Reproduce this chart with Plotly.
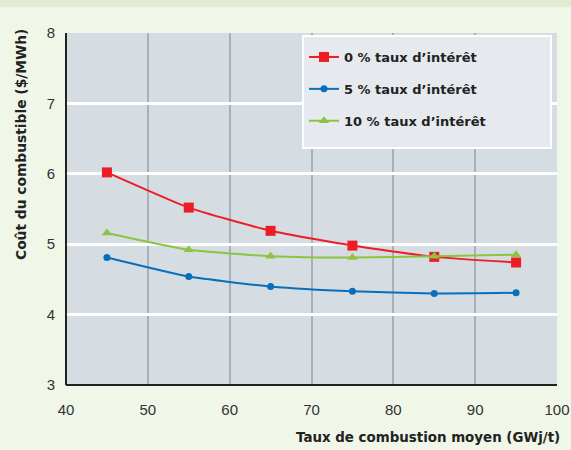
import plotly.graph_objects as go

x_vals = [45, 55, 65, 75, 85, 95]
rate_0 = [6.02, 5.52, 5.19, 4.98, 4.82, 4.74]
rate_5 = [4.81, 4.54, 4.40, 4.33, 4.30, 4.31]
rate_10 = [5.16, 4.92, 4.83, 4.81, 4.83, 4.85]
names = ["0 % taux d’intérêt", "5 % taux d’intérêt", "10 % taux d’intérêt"]
x_ticks = [40, 50, 60, 70, 80, 90, 100]
y_ticks = [3, 4, 5, 6, 7, 8]

W, H = 571, 450
ML, MR, MT, MB = 66, 14, 33, 65
PW, PH = W - ML - MR, H - MT - MB

def px_x(p):
    return (p - ML) / PW

def px_y(p):
    return (H - MB - p) / PH

BOLD = "DejaVu Sans, Verdana, sans-serif"

fig = go.Figure()
series = [
    (rate_0, "#ee1c25", "square", 10),
    (rate_5, "#0a6fba", "circle", 7),
    (rate_10, "#8cc43f", "triangle-up", 9),
]
for i, (vals, col, sym, sz) in enumerate(series):
    fig.add_trace(go.Scatter(
        x=x_vals, y=vals, name=names[i], mode="lines+markers",
        line=dict(color=col, width=2, shape="spline", smoothing=0.5),
        marker=dict(symbol=sym, size=sz, color=col),
        legendgroup=str(i),
    ))

shapes = [
    dict(type="rect", xref="paper", yref="paper",
         x0=px_x(0), x1=px_x(W), y0=px_y(7), y1=px_y(0),
         fillcolor="#e2ebd3", line=dict(width=0), layer="below"),
    dict(type="rect", xref="paper", yref="paper",
         x0=px_x(303), x1=px_x(551), y0=px_y(148), y1=px_y(36),
         fillcolor="#e6eaee", line=dict(color="white", width=2), layer="above"),
    dict(type="line", xref="paper", yref="paper", x0=0, x1=0, y0=0, y1=1,
         line=dict(color="#222222", width=2), layer="above"),
    dict(type="line", xref="paper", yref="paper", x0=0, x1=1, y0=0, y1=0,
         line=dict(color="#222222", width=2), layer="above"),
]

fig.update_layout(
    width=W, height=H,
    margin=dict(l=ML, r=MR, t=MT, b=MB, autoexpand=False),
    paper_bgcolor="#f0f6e8",
    plot_bgcolor="#d5dde3",
    font=dict(family="Liberation Sans, Arial, sans-serif", color="#222222"),
    shapes=shapes,
    showlegend=True,
    legend=dict(
        x=px_x(304), y=px_y(42), xanchor="left", yanchor="top",
        bgcolor="rgba(0,0,0,0)", borderwidth=0,
        font=dict(size=13, color="#222222", family=BOLD, weight="bold"),
        tracegroupgap=12, traceorder="grouped", itemsizing="trace",
    ),
    xaxis=dict(
        range=[40, 100], tickvals=x_ticks, showgrid=True, gridcolor="#a8b1b8", gridwidth=1.5,
        zeroline=False, showline=False, ticks="", automargin=False,
        tickfont=dict(size=15, color="#333333"), ticklabelstandoff=14,
    ),
    yaxis=dict(
        range=[3, 8], tickvals=y_ticks, showgrid=True, gridcolor="white", gridwidth=2.5,
        zeroline=False, showline=False, ticks="", automargin=False,
        tickfont=dict(size=15, color="#333333"), ticklabelstandoff=10,
    ),
    annotations=[
        dict(text="Coût du combustible ($/MWh)", xref="paper", yref="paper",
             x=px_x(21), y=px_y(145), xanchor="center", yanchor="middle",
             textangle=-90, showarrow=False,
             font=dict(size=13.8, weight="bold", color="#222222", family=BOLD)),
        dict(text="Taux de combustion moyen (GWj/t)", xref="paper", yref="paper",
             x=px_x(562), y=px_y(437), xanchor="right", yanchor="middle", showarrow=False,
             font=dict(size=13.4, weight="bold", color="#222222", family=BOLD)),
    ],
)

fig.write_html(
    "out.html",
    config={"displayModeBar": False},
    post_script="document.body.style.margin='0';document.body.style.background='#f0f6e8';",
)
